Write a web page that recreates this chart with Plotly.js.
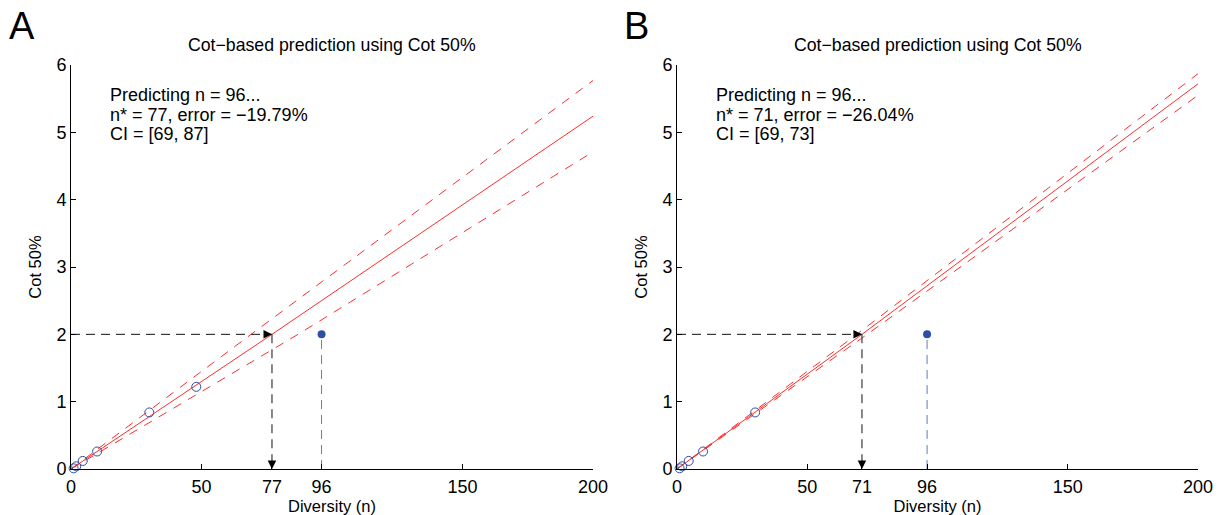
<!DOCTYPE html>
<html><head><meta charset="utf-8">
<script src="https://cdn.plot.ly/plotly-3.0.1.min.js"></script>
<style>html,body{margin:0;padding:0;background:#fff}</style>
</head><body><div id="chart" style="width:1221px;height:515px"></div>
<script>
// ---- data ----
const panelLetters = ["A", "B"];
const panelTitle = "Cot\u2212based prediction using Cot 50%";
const xLabel = "Diversity (n)";
const yLabel = "Cot 50%";

// observed points (open circles)
const obsA_n = [1, 2, 4.5, 10, 30, 48];
const obsA_cot = [0.01, 0.04, 0.12, 0.26, 0.84, 1.22];
const obsB_n = [1, 2, 4.5, 10, 30];
const obsB_cot = [0.01, 0.04, 0.12, 0.26, 0.84];

// target point
const targetN = 96;
const targetCot = 2;

// predictions
const predA = 77;
const predB = 71;

// fitted lines and confidence bounds
const fitA_x = [0, 77, 200];  const fitA_y = [0, 2, 5.24];
const upA_x  = [0, 69, 200];  const upA_y  = [0, 2, 5.77];
const loA_x  = [0, 87, 200];  const loA_y  = [0, 2, 4.71];
const fitB_x = [0, 71, 200];  const fitB_y = [0, 2, 5.72];
const upB_x  = [0, 69, 200];  const upB_y  = [0, 2, 5.87];
const loB_x  = [0, 73, 200];  const loB_y  = [0, 2, 5.55];

// tick labels
const xTicksA = [0, 50, 77, 96, 150, 200];
const xTicksB = [0, 50, 71, 96, 150, 200];
const yTicks = [0, 1, 2, 3, 4, 5, 6];

// info text
const infoA = ["Predicting n = 96...", "n* = 77, error = \u221219.79%", "CI = [69, 87]"];
const infoB = ["Predicting n = 96...", "n* = 71, error = \u221226.04%", "CI = [69, 73]"];

// ---- styling ----
const FONT = "Helvetica, Arial, 'Liberation Sans', sans-serif";
const RED = "rgb(255,45,45)";
const BLUE = "#2d4fa6";
const W = 1221, H = 515;
const domA = [71 / W, 593 / W];
const domB = [677 / W, 1198 / W];
const domY = [(H - 469) / H, (H - 65) / H];

function panelTraces(xa, ya, fx, fy, ux, uy, lx, ly, on, oc, pred) {
  const base = {xaxis: xa, yaxis: ya, showlegend: false, hoverinfo: "skip", cliponaxis: false};
  return [
    Object.assign({}, base, {x: ux, y: uy, mode: "lines", line: {color: RED, width: 1, dash: "9px,8px"}}),
    Object.assign({}, base, {x: lx, y: ly, mode: "lines", line: {color: RED, width: 1, dash: "9px,8px"}}),
    Object.assign({}, base, {x: fx, y: fy, mode: "lines", line: {color: RED, width: 1}}),
    Object.assign({}, base, {x: on, y: oc, mode: "markers",
      marker: {symbol: "circle-open", size: 9, color: BLUE, line: {width: 1, color: BLUE}}}),
    Object.assign({}, base, {x: [0, pred], y: [targetCot, targetCot], mode: "lines",
      line: {color: "#111", width: 1, dash: "9px,6px"}}),
    Object.assign({}, base, {x: [pred, pred], y: [targetCot, 0], mode: "lines",
      line: {color: "#555", width: 1.4, dash: "9px,6px"}}),
    Object.assign({}, base, {x: [targetN, targetN], y: [0, targetCot], mode: "lines",
      line: {color: "#5f7bc4", width: 1, dash: "9px,6px"}}),
    Object.assign({}, base, {x: [targetN], y: [targetCot], mode: "markers",
      marker: {symbol: "circle", size: 8, color: BLUE}})
  ];
}

const data = [].concat(
  panelTraces("x", "y", fitA_x, fitA_y, upA_x, upA_y, loA_x, loA_y, obsA_n, obsA_cot, predA),
  panelTraces("x2", "y2", fitB_x, fitB_y, upB_x, upB_y, loB_x, loB_y, obsB_n, obsB_cot, predB)
);

function xaxisDef(dom, ticks, anchor) {
  return {
    domain: dom, anchor: anchor, range: [0, 200], fixedrange: true,
    showline: true, linecolor: "#000", linewidth: 1, mirror: false,
    showgrid: false, zeroline: false,
    ticks: "inside", ticklen: 5, tickcolor: "#000", tickwidth: 1,
    tickmode: "array", tickvals: ticks, ticktext: ticks.map(String),
    ticklabelstandoff: 1,
    tickfont: {family: FONT, size: 18, color: "#000"},
    title: {text: xLabel, font: {family: FONT, size: 16.5, color: "#000"}, standoff: 6}
  };
}
function yaxisDef(anchor) {
  return {
    domain: domY, anchor: anchor, range: [0, 6], fixedrange: true,
    showline: true, linecolor: "#000", linewidth: 1, mirror: false,
    showgrid: false, zeroline: false,
    ticks: "inside", ticklen: 5, tickcolor: "#000", tickwidth: 1,
    tickmode: "array", tickvals: yTicks, ticktext: yTicks.map(String),
    tickfont: {family: FONT, size: 18, color: "#000"},
    title: {text: yLabel, font: {family: FONT, size: 16.5, color: "#000"}, standoff: 10}
  };
}

const annotations = [];
[[domA, predA, "x", "y", infoA], [domB, predB, "x2", "y2", infoB]].forEach(function (p, i) {
  const dom = p[0], pred = p[1], xr = p[2], yr = p[3], info = p[4];
  // panel letter
  annotations.push({xref: "paper", yref: "paper", x: (i === 0 ? 7 : 622) / W, y: 1 - 3 / H,
    xanchor: "left", yanchor: "top", showarrow: false, text: panelLetters[i],
    font: {family: FONT, size: 38, color: "#000"}});
  // subplot title
  annotations.push({xref: "paper", yref: "paper", x: (dom[0] + dom[1]) / 2, y: (H - 45) / H,
    xanchor: "center", yanchor: "middle", showarrow: false, text: panelTitle,
    font: {family: FONT, size: 17.7, color: "#000"}});
  // info lines
  info.forEach(function (line, k) {
    annotations.push({xref: xr + " domain", yref: yr + " domain", x: 37 / 522, y: (469 - (95 + 19.5 * k)) / 404,
      xanchor: "left", yanchor: "middle", showarrow: false, text: line, align: "left",
      font: {family: FONT, size: 18, color: "#000"}});
  });
  // arrowheads
  annotations.push({xref: xr, yref: yr, x: pred, y: targetCot, axref: xr, ayref: yr,
    ax: pred - 3.5, ay: targetCot, text: "", showarrow: true, arrowhead: 2, arrowsize: 1.7,
    arrowwidth: 1, arrowcolor: "#000"});
  annotations.push({xref: xr, yref: yr, x: pred, y: 0, axref: xr, ayref: yr,
    ax: pred, ay: 0.14, text: "", showarrow: true, arrowhead: 2, arrowsize: 1.7,
    arrowwidth: 1, arrowcolor: "#000"});
});

const layout = {
  width: W, height: H,
  margin: {l: 0, r: 0, t: 0, b: 0},
  paper_bgcolor: "#fff", plot_bgcolor: "#fff",
  font: {family: FONT, color: "#000"},
  xaxis: xaxisDef(domA, xTicksA, "y"),
  yaxis: yaxisDef("x"),
  xaxis2: xaxisDef(domB, xTicksB, "y2"),
  yaxis2: yaxisDef("x2"),
  annotations: annotations,
  showlegend: false
};

Plotly.newPlot("chart", data, layout, {displayModeBar: false, staticPlot: true});
</script>
</body></html>
